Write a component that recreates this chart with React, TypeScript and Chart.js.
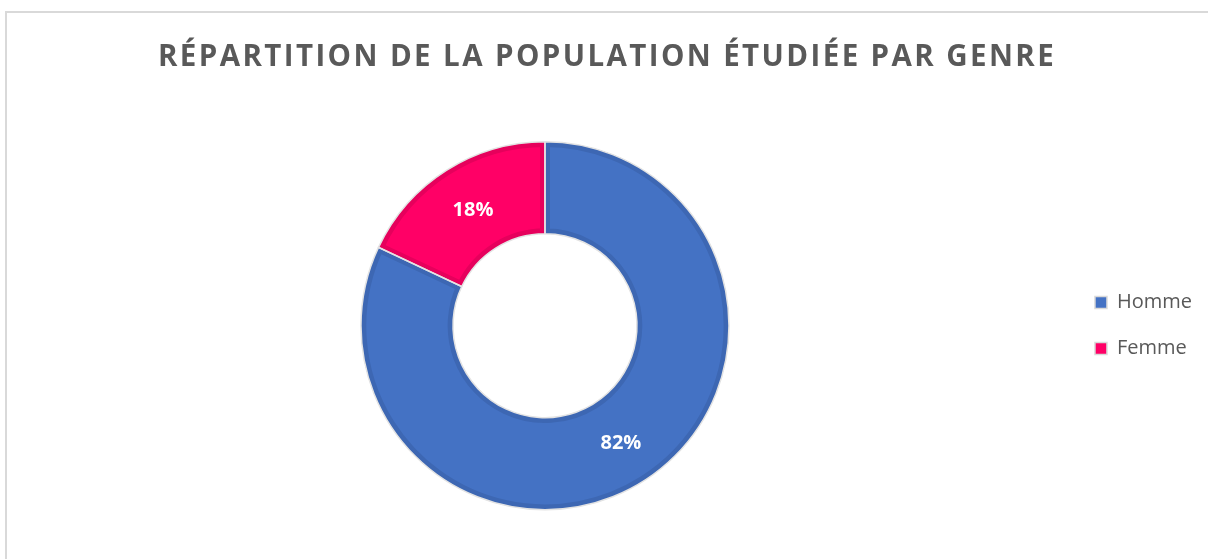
import React, { useEffect, useRef } from "react";
import { Chart, registerables } from "chart.js";

Chart.register(...registerables);

const categories = ["Homme", "Femme"];
const values = [82, 18];
const fillColors = ["#4472C4", "#FF0066"];
const edgeColors = ["#3D67B3", "#E6005C"];
const titleText = "RÉPARTITION DE LA POPULATION ÉTUDIÉE PAR GENRE";

const outlinePlugin = {
  id: "outlineAndLabels",
  beforeDraw(chart: any) {
    const tb = chart.titleBlock;
    if (tb && !tb.__spaced) {
      const orig = tb.draw;
      tb.draw = function (...args: any[]) {
        const ctx = chart.ctx;
        ctx.save();
        (ctx as any).letterSpacing = "2.4px";
        ctx.translate(-4.5, 0);
        orig.apply(this, args);
        ctx.restore();
      };
      tb.__spaced = true;
    }
  },
  afterDatasetsDraw(chart: any) {
    const ctx = chart.ctx;
    const meta = chart.getDatasetMeta(0);
    ctx.save();
    meta.data.forEach((arc: any) => {
      const { x, y, startAngle, endAngle, innerRadius, outerRadius } = arc.getProps(
        ["x", "y", "startAngle", "endAngle", "innerRadius", "outerRadius"],
        true
      );
      ctx.beginPath();
      ctx.arc(x, y, outerRadius, startAngle, endAngle);
      ctx.arc(x, y, innerRadius, endAngle, startAngle, true);
      ctx.closePath();
      ctx.lineWidth = 1.5;
      ctx.strokeStyle = "#E3E3E3";
      ctx.stroke();
    });
    const total = values.reduce((a, b) => a + b, 0);
    ctx.fillStyle = "#FFFFFF";
    ctx.font = "bold 20px 'Open Sans'";
    ctx.textAlign = "center";
    ctx.textBaseline = "middle";
    meta.data.forEach((arc: any, i: number) => {
      const p = arc.getCenterPoint();
      ctx.fillText(Math.round((values[i] / total) * 100) + "%", p.x + 2, p.y + 1);
    });
    ctx.restore();
  },
};

export default function App() {
  const ref = useRef<HTMLCanvasElement>(null);
  useEffect(() => {
    if (!ref.current) return;
    const baseGen = (Chart as any).overrides.doughnut.plugins.legend.labels.generateLabels;
    const chart = new Chart(ref.current, {
      type: "doughnut",
      data: {
        labels: categories,
        datasets: [
          {
            data: values,
            backgroundColor: fillColors,
            borderColor: edgeColors,
            borderWidth: 5,
            borderAlign: "inner",
            hoverOffset: 0,
          },
        ],
      },
      options: {
        responsive: false,
        animation: false,
        radius: 184,
        cutout: "50%",
        layout: { padding: { left: 14, right: 14, top: 0, bottom: 1 } },
        plugins: {
          title: {
            display: true,
            text: titleText,
            color: "#595959",
            font: { family: "'Open Sans'", size: 29.5, weight: "bold" },
            padding: { top: 27, bottom: 18 },
          },
          legend: {
            position: "right",
            title: {
              display: true,
              text: " ",
              font: { family: "'Open Sans'", size: 20 },
              padding: { top: 0, bottom: 56 },
            },
            labels: {
              color: "#595959",
              font: { family: "'Open Sans'", size: 20 },
              boxWidth: 12,
              boxHeight: 12,
              padding: 26,
              generateLabels(c: any) {
                const items = baseGen(c);
                return items.map((it: any) => ({ ...it, strokeStyle: "#D9D9D9", lineWidth: 1.5 }));
              },
            },
          },
          tooltip: { enabled: false },
        },
      },
      plugins: [outlinePlugin],
    });
    return () => chart.destroy();
  }, []);
  return (
    <div style={{ position: "fixed", left: 0, top: 0, width: 1208, height: 559, overflow: "hidden", background: "#fff" }}>
      <div
        style={{
          position: "absolute",
          left: 5,
          top: 11,
          width: 1213,
          height: 560,
          border: "2px solid #D9D9D9",
          boxSizing: "border-box",
        }}
      />
      <canvas ref={ref} width={1209} height={546} style={{ position: "absolute", left: 7, top: 13, width: 1209, height: 546 }} />
    </div>
  );
}
